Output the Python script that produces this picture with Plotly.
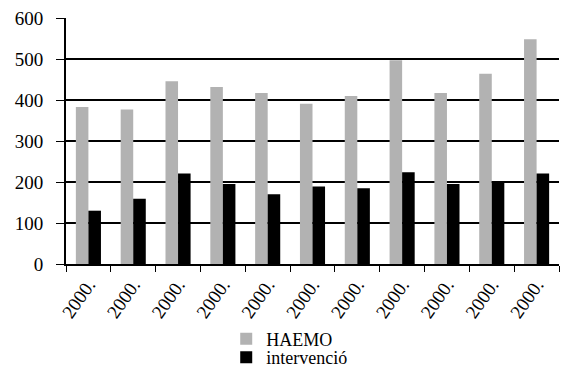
import plotly.graph_objects as go

categories = [f"c{i}" for i in range(11)]
tick_labels = ["2000."] * 11
haemo = [383, 377, 446, 432, 417, 391, 410, 497, 417, 464, 548]
intervencio = [130, 159, 221, 195, 170, 189, 185, 224, 195, 202, 221]

font_family = "Liberation Serif, DejaVu Serif, serif"

fig = go.Figure()
fig.add_trace(go.Bar(x=categories, y=haemo, name="HAEMO", legend="legend",
                     marker=dict(color="#b2b2b2", line=dict(width=0))))
fig.add_trace(go.Bar(x=categories, y=intervencio, name="intervenció", legend="legend2",
                     marker=dict(color="#000000", line=dict(width=0))))

leg_common = dict(orientation="v", x=0.325, xanchor="left", yanchor="middle",
                  font=dict(size=18, family=font_family), itemwidth=30,
                  bgcolor="rgba(0,0,0,0)")

fig.update_layout(
    width=561, height=372,
    margin=dict(l=66, r=2, t=18, b=108, autoexpand=False),
    paper_bgcolor="white", plot_bgcolor="white",
    barmode="group", bargap=0.44, bargroupgap=0,
    font=dict(family=font_family, size=19, color="black"),
    showlegend=True,
    legend=dict(y=-0.305, **leg_common),
    legend2=dict(y=-0.38, **leg_common),
    xaxis=dict(
        tickmode="array", tickvals=categories, ticktext=tick_labels,
        tickangle=-55, tickson="boundaries", ticks="outside", ticklen=6,
        tickcolor="black", showline=True, linecolor="black", linewidth=2,
        showgrid=False, tickfont=dict(size=19, family=font_family), automargin=False,
    ),
    yaxis=dict(
        range=[0, 600], dtick=100, ticks="outside", ticklen=8, tickcolor="black",
        showline=True, linecolor="black", linewidth=2, ticklabelstandoff=9,
        showgrid=True, gridcolor="black", gridwidth=1.5,
        zeroline=False, tickfont=dict(size=19, family=font_family), automargin=False,
    ),
)

fig.write_html("out.html")
